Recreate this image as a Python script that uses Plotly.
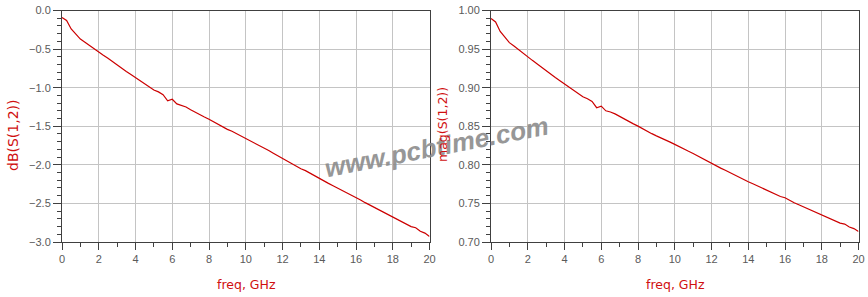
import plotly.graph_objects as go

# ---- data ----
freq_ghz = [0.00, 0.25, 0.50, 0.75, 1.00, 1.25, 1.50, 1.75, 2.00, 2.25,
            2.50, 2.75, 3.00, 3.25, 3.50, 3.75, 4.00, 4.25, 4.50, 4.75,
            5.00, 5.25, 5.50, 5.75, 6.00, 6.25, 6.50, 6.75, 7.00, 7.25,
            7.50, 7.75, 8.00, 8.25, 8.50, 8.75, 9.00, 9.25, 9.50, 9.75,
            10.00, 10.25, 10.50, 10.75, 11.00, 11.25, 11.50, 11.75, 12.00, 12.25,
            12.50, 12.75, 13.00, 13.25, 13.50, 13.75, 14.00, 14.25, 14.50, 14.75,
            15.00, 15.25, 15.50, 15.75, 16.00, 16.25, 16.50, 16.75, 17.00, 17.25,
            17.50, 17.75, 18.00, 18.25, 18.50, 18.75, 19.00, 19.25, 19.50, 19.75,
            20.00]

s12_db = [-0.090, -0.130, -0.240, -0.310, -0.370, -0.410, -0.455, -0.500, -0.540, -0.580,
          -0.620, -0.665, -0.705, -0.745, -0.790, -0.830, -0.870, -0.905, -0.940, -0.985,
          -1.030, -1.055, -1.090, -1.170, -1.150, -1.210, -1.225, -1.250, -1.285, -1.320,
          -1.350, -1.380, -1.410, -1.445, -1.475, -1.510, -1.540, -1.565, -1.595, -1.625,
          -1.655, -1.690, -1.720, -1.750, -1.780, -1.815, -1.850, -1.885, -1.920, -1.950,
          -1.985, -2.015, -2.050, -2.075, -2.110, -2.145, -2.180, -2.210, -2.240, -2.270,
          -2.300, -2.330, -2.365, -2.395, -2.415, -2.455, -2.490, -2.520, -2.550, -2.580,
          -2.610, -2.640, -2.670, -2.700, -2.735, -2.765, -2.800, -2.815, -2.860, -2.885,
          -2.930]

s12_mag = [0.9897, 0.9851, 0.9728, 0.9649, 0.9583, 0.9539, 0.9490, 0.9441, 0.9397, 0.9354,
           0.9311, 0.9263, 0.9220, 0.9178, 0.9131, 0.9089, 0.9047, 0.9011, 0.8974, 0.8928,
           0.8882, 0.8856, 0.8821, 0.8740, 0.8760, 0.8700, 0.8685, 0.8660, 0.8625, 0.8590,
           0.8561, 0.8531, 0.8502, 0.8467, 0.8438, 0.8404, 0.8375, 0.8351, 0.8322, 0.8294,
           0.8265, 0.8232, 0.8204, 0.8175, 0.8147, 0.8114, 0.8082, 0.8049, 0.8017, 0.7989,
           0.7957, 0.7930, 0.7898, 0.7875, 0.7843, 0.7812, 0.7780, 0.7754, 0.7727, 0.7700,
           0.7674, 0.7647, 0.7616, 0.7590, 0.7573, 0.7538, 0.7508, 0.7482, 0.7456, 0.7430,
           0.7405, 0.7379, 0.7354, 0.7328, 0.7299, 0.7274, 0.7244, 0.7232, 0.7195, 0.7174,
           0.7137]

x_tick_vals = [0, 2, 4, 6, 8, 10, 12, 14, 16, 18, 20]
db_tick_vals = [0.0, -0.5, -1.0, -1.5, -2.0, -2.5, -3.0]
mag_tick_vals = [1.00, 0.95, 0.90, 0.85, 0.80, 0.75, 0.70]

LINE = "#cc0000"
RED = "#d01010"
GRID = "#c4c4c4"
AXIS = "#404040"
TICKTXT = "#5a5a5a"
FONT = "Liberation Sans, Arial, sans-serif"
TITLE_FONT = "DejaVu Sans, Verdana, sans-serif"

W, H = 868, 297

fig = go.Figure()
fig.add_trace(go.Scatter(x=freq_ghz, y=s12_db, mode="lines",
                         line=dict(color=LINE, width=1.2),
                         xaxis="x", yaxis="y", showlegend=False))
fig.add_trace(go.Scatter(x=freq_ghz, y=s12_mag, mode="lines",
                         line=dict(color=LINE, width=1.2),
                         xaxis="x2", yaxis="y2", showlegend=False))

def px_x(p):
    return p / W

def px_y(p):
    return 1 - p / H

ydom = [px_y(242), px_y(10.5)]

common_x = dict(range=[0, 20], tickvals=x_tick_vals, ticks="outside", ticklen=7,
                tickcolor=AXIS, showline=True, linecolor=AXIS, linewidth=1,
                mirror=True, showgrid=True, gridcolor=GRID, gridwidth=1,
                zeroline=False, automargin=False,
                tickfont=dict(family=FONT, size=11, color=TICKTXT),
                minor=dict(dtick=1, tick0=0, ticks="outside", ticklen=4,
                           tickcolor=AXIS, showgrid=False))
common_y = dict(ticks="outside", ticklen=8, tickcolor=AXIS, showline=True,
                linecolor=AXIS, linewidth=1, mirror=True, showgrid=True,
                gridcolor=GRID, gridwidth=1, zeroline=False, automargin=False,
                tickfont=dict(family=FONT, size=11, color=TICKTXT))

fig.update_layout(
    width=W, height=H, autosize=False,
    margin=dict(l=0, r=0, t=0, b=0, pad=0, autoexpand=False),
    paper_bgcolor="white", plot_bgcolor="white",
    xaxis=dict(domain=[px_x(62), px_x(429.5)], anchor="y", **common_x),
    yaxis=dict(domain=ydom, anchor="x", range=[-3.0, 0.0], tickvals=db_tick_vals,
               tickformat=".1f",
               minor=dict(dtick=0.1, tick0=0, ticks="outside", ticklen=4,
                          tickcolor=AXIS, showgrid=False),
               **common_y),
    xaxis2=dict(domain=[px_x(491), px_x(858.5)], anchor="y2", **common_x),
    yaxis2=dict(domain=ydom, anchor="x2", range=[0.70, 1.00], tickvals=mag_tick_vals,
                tickformat=".2f",
                minor=dict(dtick=0.01, tick0=0.7, ticks="outside", ticklen=4,
                           tickcolor=AXIS, showgrid=False),
                **common_y),
)

annotations = [
    dict(text="www.pcbtime.com", x=px_x(436), y=px_y(147), xref="paper", yref="paper",
         xanchor="center", yanchor="middle", showarrow=False, textangle=-11,
         font=dict(family=FONT, size=26, color="#8c8c8c", weight="bold", style="italic"),
         opacity=0.9),
    dict(text="dB(S(1,2))", x=px_x(13), y=px_y(135), xref="paper", yref="paper",
         xanchor="center", yanchor="middle", showarrow=False, textangle=-90,
         font=dict(family=TITLE_FONT, size=14, color=RED)),
    dict(text="mag(S(1,2))", x=px_x(443), y=px_y(125), xref="paper", yref="paper",
         xanchor="center", yanchor="middle", showarrow=False, textangle=-90,
         font=dict(family=TITLE_FONT, size=12.5, color=RED)),
    dict(text="freq, GHz", x=px_x(246.5), y=px_y(284), xref="paper", yref="paper",
         xanchor="center", yanchor="middle", showarrow=False,
         font=dict(family=TITLE_FONT, size=12.5, color=RED)),
    dict(text="freq, GHz", x=px_x(675), y=px_y(284), xref="paper", yref="paper",
         xanchor="center", yanchor="middle", showarrow=False,
         font=dict(family=TITLE_FONT, size=12.5, color=RED)),
]
fig.update_layout(annotations=annotations)

fig.write_html("out.html")
